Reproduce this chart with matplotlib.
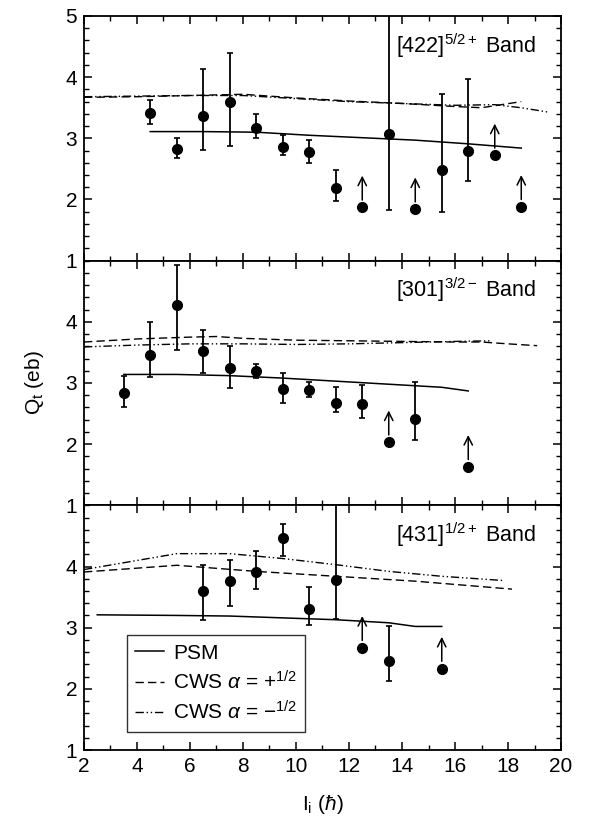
import numpy as np
import matplotlib
matplotlib.use("Agg")
import matplotlib.pyplot as plt
from matplotlib.ticker import MultipleLocator

plt.rcParams['font.family'] = ['Liberation Sans', 'DejaVu Sans']
plt.rcParams['mathtext.fontset'] = 'custom'
plt.rcParams['mathtext.rm'] = 'Liberation Sans'
plt.rcParams['mathtext.it'] = 'Liberation Sans:italic'
plt.rcParams['mathtext.sf'] = 'Liberation Sans'

# ---------------- [422]5/2+ band ----------------
x_422 = [4.5, 5.5, 6.5, 7.5, 8.5, 9.5, 10.5, 11.5, 12.5, 13.5, 14.5, 15.5, 16.5, 17.5, 18.5]
q_422 = [3.41, 2.83, 3.37, 3.60, 3.17, 2.85, 2.77, 2.18, 1.87, 3.07, 1.84, 2.49, 2.80, 2.72, 1.88]
up_422 = [0.22, 0.18, 0.77, 0.79, 0.23, 0.20, 0.20, 0.30, 0.0, 2.5, 0.0, 1.24, 1.17, 0.0, 0.0]
lo_422 = [0.18, 0.15, 0.56, 0.73, 0.17, 0.12, 0.17, 0.21, 0.0, 1.24, 0.0, 0.69, 0.50, 0.0, 0.0]
lim_422 = [12.5, 14.5, 17.5, 18.5]

psm_x_422 = [4.5, 6.5, 8.5, 10.5, 12.5, 14.5, 16.5, 18.5]
psm_y_422 = [3.11, 3.11, 3.10, 3.05, 3.01, 2.97, 2.91, 2.84]
cwsp_x_422 = [2, 4, 6, 8, 10, 12, 14, 16, 17, 18.5]
cwsp_y_422 = [3.67, 3.68, 3.70, 3.72, 3.66, 3.61, 3.57, 3.52, 3.50, 3.60]
cwsm_x_422 = [2, 4, 6, 8, 10, 12, 14, 16, 17.5, 18.5, 19.5]
cwsm_y_422 = [3.68, 3.69, 3.70, 3.70, 3.65, 3.60, 3.57, 3.54, 3.55, 3.50, 3.43]

# ---------------- [301]3/2- band ----------------
x_301 = [3.5, 4.5, 5.5, 6.5, 7.5, 8.5, 9.5, 10.5, 11.5, 12.5, 13.5, 14.5, 16.5]
q_301 = [2.83, 3.45, 4.28, 3.53, 3.24, 3.20, 2.90, 2.88, 2.67, 2.66, 2.03, 2.41, 1.63]
up_301 = [0.28, 0.55, 0.65, 0.34, 0.37, 0.11, 0.26, 0.13, 0.27, 0.31, 0.0, 0.61, 0.0]
lo_301 = [0.23, 0.36, 0.74, 0.37, 0.32, 0.12, 0.22, 0.11, 0.14, 0.23, 0.0, 0.35, 0.0]
lim_301 = [13.5, 16.5]

psm_x_301 = [3.5, 5.5, 7.5, 9.5, 11.5, 13.5, 15.5, 16.5]
psm_y_301 = [3.14, 3.14, 3.12, 3.08, 3.03, 2.98, 2.93, 2.87]
cwsp_x_301 = [2, 4, 6, 7, 8, 10, 12, 14, 16, 17, 18, 19.1]
cwsp_y_301 = [3.67, 3.72, 3.75, 3.76, 3.73, 3.70, 3.69, 3.68, 3.67, 3.67, 3.64, 3.61]
cwsm_x_301 = [2, 4, 6, 8, 10, 12, 14, 16, 17.4]
cwsm_y_301 = [3.59, 3.62, 3.64, 3.64, 3.63, 3.64, 3.66, 3.68, 3.69]

# ---------------- [431]1/2+ band ----------------
x_431 = [6.5, 7.5, 8.5, 9.5, 10.5, 11.5, 12.5, 13.5, 15.5]
q_431 = [3.60, 3.76, 3.91, 4.46, 3.31, 3.78, 2.67, 2.46, 2.33]
up_431 = [0.42, 0.34, 0.34, 0.24, 0.35, 1.5, 0.0, 0.56, 0.0]
lo_431 = [0.47, 0.40, 0.27, 0.29, 0.27, 0.64, 0.0, 0.33, 0.0]
lim_431 = [12.5, 15.5]

psm_x_431 = [2.5, 5.5, 7.5, 9.5, 11.5, 13.5, 14.5, 15.5]
psm_y_431 = [3.21, 3.20, 3.19, 3.16, 3.13, 3.08, 3.02, 3.02]
cwsp_x_431 = [2, 5.5, 8.5, 11.5, 14.5, 18.15]
cwsp_y_431 = [3.91, 4.02, 3.92, 3.84, 3.76, 3.63]
cwsm_x_431 = [2, 5.5, 7.5, 9.5, 11.5, 13.5, 15.5, 17.85]
cwsm_y_431 = [3.95, 4.21, 4.21, 4.13, 4.03, 3.92, 3.84, 3.77]

panels = [
    (x_422, q_422, up_422, lo_422, lim_422, psm_x_422, psm_y_422, cwsp_x_422, cwsp_y_422,
     cwsm_x_422, cwsm_y_422, r'[422]$^{\mathregular{5/2+}}$ Band'),
    (x_301, q_301, up_301, lo_301, lim_301, psm_x_301, psm_y_301, cwsp_x_301, cwsp_y_301,
     cwsm_x_301, cwsm_y_301, r'[301]$^{\mathregular{3/2-}}$ Band'),
    (x_431, q_431, up_431, lo_431, lim_431, psm_x_431, psm_y_431, cwsp_x_431, cwsp_y_431,
     cwsm_x_431, cwsm_y_431, r'[431]$^{\mathregular{1/2+}}$ Band'),
]

fig = plt.figure(figsize=(5.97, 8.24), dpi=100)
gs = fig.add_gridspec(3, 1, left=0.1407, right=0.9397, bottom=0.0898, top=0.9806, hspace=0)

for k, p in enumerate(panels):
    xs, qs, up, lo, lims, px, py, cpx, cpy, cmx, cmy, label = p
    ax = fig.add_subplot(gs[k])
    ax.plot(px, py, '-', color='black', lw=1.1, label='PSM')
    ax.plot(cpx, cpy, color='black', lw=1.0, dashes=(6, 3), label=r'CWS $\alpha$ = +$^{\mathregular{1/2}}$')
    ax.plot(cmx, cmy, color='black', lw=1.0, dashes=(6, 2, 1, 2, 1, 2), label=r'CWS $\alpha$ = $-^{\mathregular{1/2}}$')
    ax.errorbar(xs, qs, yerr=[lo, up], fmt='o', color='black', ms=7,
                elinewidth=1.3, capsize=2, capthick=1.2)
    for xv, qv in zip(xs, qs):
        if xv in lims:
            ax.annotate('', xy=(xv, qv + 0.52), xytext=(xv, qv + 0.12),
                        arrowprops=dict(arrowstyle='->', color='black', lw=1.1,
                                        mutation_scale=15, shrinkA=0, shrinkB=0))
    ax.set_xlim(2, 20)
    ax.set_ylim(1, 5)
    ax.xaxis.set_major_locator(MultipleLocator(2))
    ax.xaxis.set_minor_locator(MultipleLocator(1))
    ax.yaxis.set_major_locator(MultipleLocator(1))
    ax.yaxis.set_minor_locator(MultipleLocator(0.2))
    ax.tick_params(which='both', direction='in', top=True, right=True, labelsize=15)
    ax.tick_params(which='major', length=6, width=1.1, pad=5)
    ax.tick_params(which='minor', length=3.5, width=1.0)
    for s in ax.spines.values():
        s.set_linewidth(1.3)
    if k > 0:
        ax.set_yticks([1, 2, 3, 4])
    if k < 2:
        ax.tick_params(labelbottom=False)
    ax.text(0.948, 0.88, label, transform=ax.transAxes, ha='right', va='center', fontsize=15.5)
    if k == 2:
        leg = ax.legend(loc='lower left', bbox_to_anchor=(0.09, 0.074), fontsize=15,
                        handlelength=1.4, handletextpad=0.4, frameon=True, fancybox=False,
                        borderpad=0.4, labelspacing=0.35, borderaxespad=0)
        leg.get_frame().set_edgecolor('black')
        leg.get_frame().set_linewidth(1.0)
        ax.set_xlabel(r'I$_{\mathregular{i}}$ ($\hbar$)', fontsize=15, labelpad=12)
    if k == 1:
        ax.set_ylabel(r'Q$_{\mathregular{t}}$ (eb)', fontsize=15, labelpad=14)

plt.savefig('out.png', dpi=100)
